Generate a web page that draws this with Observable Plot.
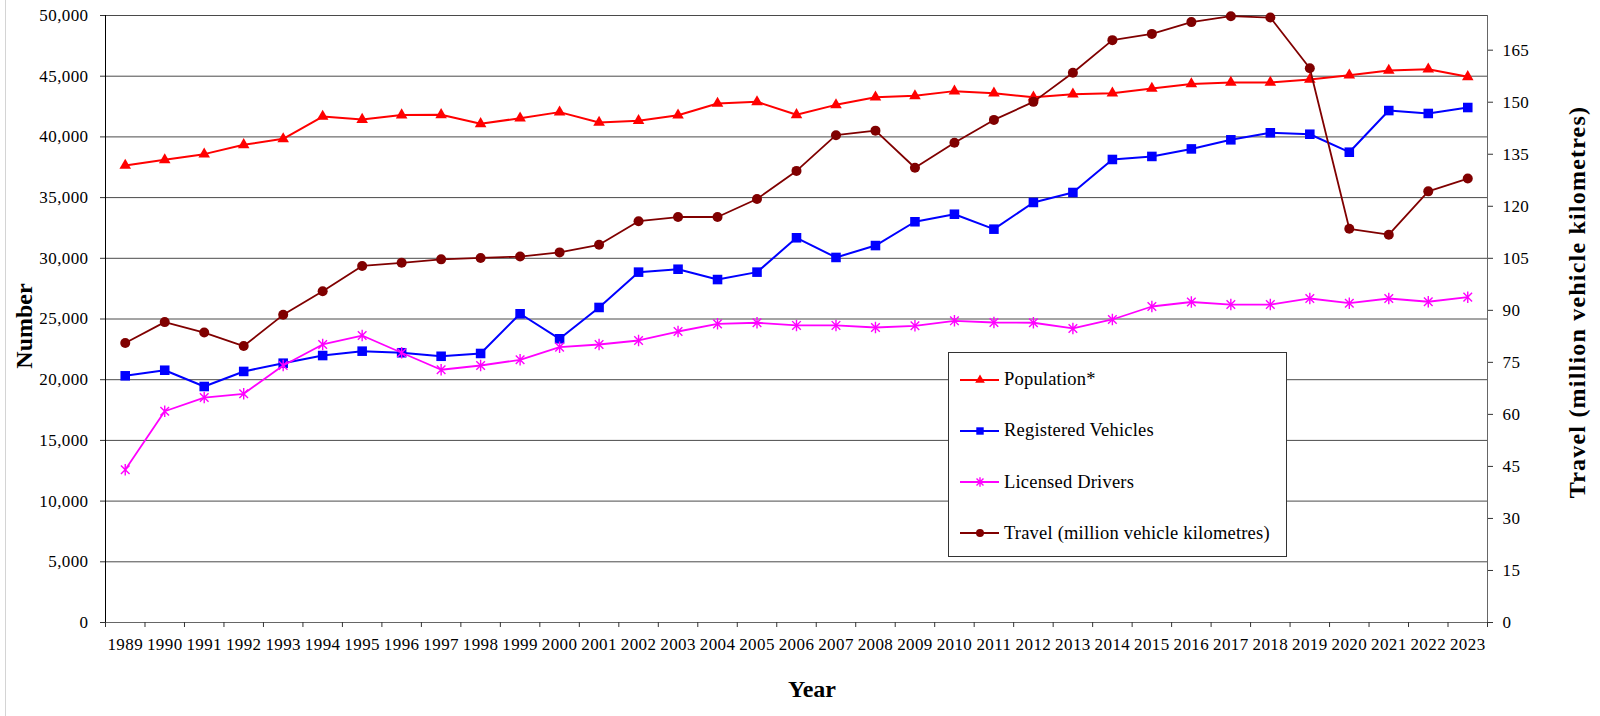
<!DOCTYPE html>
<html><head><meta charset="utf-8">
<script src="https://cdn.jsdelivr.net/npm/d3@7"></script>
<script src="https://cdn.jsdelivr.net/npm/@observablehq/plot@0.6"></script>
<style>
html,body{margin:0;padding:0;background:#fff;}
#wrap{position:relative;width:1600px;height:716px;overflow:hidden;font-family:"Liberation Serif",serif;color:#000;}
#wrap svg.main{position:absolute;left:0;top:0;}
#wrap svg.main text{letter-spacing:0.4px;}
.frame{position:absolute;left:5px;top:0;width:1px;height:716px;background:#d4d4d4;}
.title{position:absolute;font-weight:bold;font-size:24px;white-space:nowrap;line-height:1;}
.legend{position:absolute;left:948px;top:352px;width:337px;height:203px;border:1px solid #333;background:#fff;}
.item{position:absolute;left:11px;height:20px;display:flex;align-items:center;font-size:18.5px;white-space:nowrap;letter-spacing:0.2px;}
.item svg{margin-right:4px;}
</style>
</head><body>
<div id="wrap"><div class="frame"></div></div>
<script>
// ---- data ----
const years = [1989,1990,1991,1992,1993,1994,1995,1996,1997,1998,1999,2000,2001,2002,2003,2004,2005,2006,2007,2008,2009,2010,2011,2012,2013,2014,2015,2016,2017,2018,2019,2020,2021,2022,2023];
const population = [37650,38110,38580,39350,39840,41680,41430,41800,41820,41080,41540,42040,41190,41330,41790,42750,42890,41820,42640,43270,43380,43770,43600,43270,43520,43600,43990,44360,44480,44480,44730,45080,45470,45580,44950];
const vehicles = [20320,20780,19440,20680,21360,21990,22350,22220,21930,22160,25430,23370,25950,28860,29100,28250,28860,31690,30070,31050,33010,33630,32400,34600,35420,38140,38390,39010,39760,40340,40220,38740,42170,41930,42420];
const drivers = [12580,17400,18530,18840,21170,22900,23640,22220,20820,21170,21640,22680,22900,23230,23970,24600,24690,24470,24470,24300,24440,24850,24710,24690,24220,24960,26030,26400,26190,26190,26690,26300,26690,26420,26800];
const travel = [80.6,86.6,83.6,79.7,88.7,95.5,102.8,103.7,104.7,105.1,105.5,106.7,108.9,115.7,116.9,116.9,122.1,130.2,140.5,141.8,131.1,138.3,144.9,150.1,158.5,167.9,169.7,173.1,174.8,174.4,159.8,113.5,111.8,124.3,128.0];
const leftTicks = [0,5000,10000,15000,20000,25000,30000,35000,40000,45000,50000];
const rightTicks = [0,15,30,45,60,75,90,105,120,135,150,165];
const LEFT_MAX = 50000, RIGHT_MAX = 175;
const seriesNames = ["Population*","Registered Vehicles","Licensed Drivers","Travel (million vehicle kilometres)"];
const colors = ["#ff0000","#0000ff","#ff00ff","#800000"];
const xTitle = "Year", yTitle = "Number", y2Title = "Travel (million vehicle kilometres)";

// ---- build ----
const rows = years.map((year,i)=>({year, population:population[i], vehicles:vehicles[i], drivers:drivers[i], travel:travel[i]}));
const toLeft = t => t*LEFT_MAX/RIGHT_MAX;
const boundaries = [years[0]-0.5, ...years.map(y=>y+0.5)];
const star = {draw(ctx, size){const r=Math.sqrt(size)*0.6; const d=r*0.75; ctx.moveTo(0,-r);ctx.lineTo(0,r);ctx.moveTo(-d,-d);ctx.lineTo(d,d);ctx.moveTo(-d,d);ctx.lineTo(d,-d);}};

const chart = Plot.plot({
  width:1600, height:716,
  marginLeft:105, marginRight:113, marginTop:15, marginBottom:94,
  style:{fontFamily:"'Liberation Serif', serif", fontSize:"17px", color:"#000", background:"transparent", overflow:"visible"},
  x:{domain:[boundaries[0], boundaries[boundaries.length-1]]},
  y:{domain:[0, LEFT_MAX]},
  marks:[
    Plot.gridY(leftTicks.filter(d=>d>0), {stroke:"#4a4a4a", strokeOpacity:1, strokeWidth:1}),
    Plot.ruleY([0], {stroke:"#666"}),
    Plot.ruleX([boundaries[0]], {stroke:"#000"}),
    Plot.ruleX([boundaries[boundaries.length-1]], {stroke:"#666"}),
    Plot.axisY(leftTicks, {anchor:"left", tickSize:5, tickPadding:12, tickFormat:d3.format(","), label:null, stroke:"#333"}),
    Plot.axisY(rightTicks.map(toLeft), {anchor:"right", tickSize:5, tickPadding:10, tickFormat:d=>String(Math.round(d*RIGHT_MAX/LEFT_MAX)), label:null, stroke:"#333"}),
    Plot.axisX(boundaries, {tickSize:5, tickFormat:()=>"", label:null, stroke:"#333"}),
    Plot.axisX(years, {tickSize:0, tickPadding:15, tickFormat:d=>String(d), label:null}),
    Plot.line(rows, {x:"year", y:"population", stroke:colors[0], strokeWidth:2}),
    Plot.dot(rows, {x:"year", y:"population", symbol:"triangle", fill:colors[0], r:4.3}),
    Plot.line(rows, {x:"year", y:"vehicles", stroke:colors[1], strokeWidth:2}),
    Plot.dot(rows, {x:"year", y:"vehicles", symbol:"square", fill:colors[1], r:5.4}),
    Plot.line(rows, {x:"year", y:"drivers", stroke:colors[2], strokeWidth:1.8}),
    Plot.dot(rows, {x:"year", y:"drivers", symbol:star, fill:"none", stroke:colors[2], strokeWidth:1.4, r:5.4}),
    Plot.line(rows, {x:"year", y:d=>toLeft(d.travel), stroke:colors[3], strokeWidth:1.8}),
    Plot.dot(rows, {x:"year", y:d=>toLeft(d.travel), symbol:"circle", fill:colors[3], r:5})
  ]
});
chart.classList.add("main");
const wrap = document.getElementById("wrap");
wrap.appendChild(chart);

// titles
function addTitle(text, cx, cy, rot, extra){
  const d = document.createElement("div");
  d.className = "title"; d.textContent = text;
  d.style.left = cx+"px"; d.style.top = cy+"px";
  d.style.transform = "translate(-50%,-50%)" + (rot ? " rotate(-90deg)" : "");
  if (extra) Object.assign(d.style, extra);
  wrap.appendChild(d);
}
addTitle(xTitle, 812, 689, false);
addTitle(yTitle, 24, 326, true);
addTitle(y2Title, 1577, 302, true, {letterSpacing:"1.2px"});

// legend
const legend = document.createElement("div");
legend.className = "legend";
wrap.appendChild(legend);
const symbols = [d3.symbolTriangle, d3.symbolSquare, star, d3.symbolCircle];
const symSizes = [40, 55, 60, 50];
const centers = [26.5, 77.5, 129, 180];
seriesNames.forEach((name,i)=>{
  const it = document.createElement("div");
  it.className = "item";
  it.style.top = (centers[i]-10)+"px";
  const s = d3.create("svg").attr("width",40).attr("height",16);
  s.append("line").attr("x1",0).attr("x2",39).attr("y1",8).attr("y2",8).attr("stroke",colors[i]).attr("stroke-width",2);
  const p = s.append("path").attr("transform","translate(20,8)").attr("d", d3.symbol(symbols[i], symSizes[i])());
  if (i===2) p.attr("fill","none").attr("stroke",colors[i]).attr("stroke-width",1.4);
  else p.attr("fill",colors[i]);
  it.appendChild(s.node());
  const t = document.createElement("span"); t.textContent = name;
  it.appendChild(t);
  legend.appendChild(it);
});
</script>
</body></html>
